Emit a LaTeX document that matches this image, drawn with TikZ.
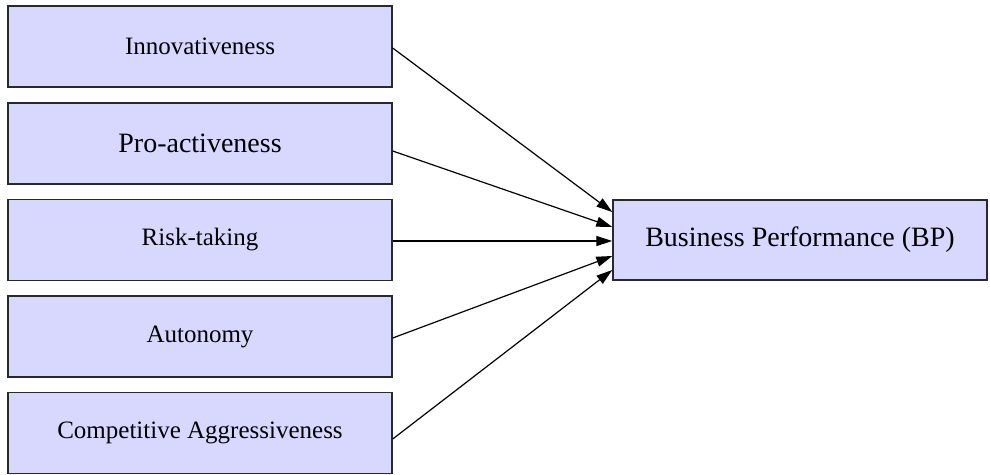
\documentclass[tikz,border=0pt]{standalone}
\usepackage{fontspec}
\setmainfont{Liberation Serif}
\usetikzlibrary{arrows.meta}
\definecolor{boxfill}{RGB}{216,216,255}
\definecolor{boxline}{RGB}{40,40,48}
\tikzset{
  factor/.style={draw=boxline, line width=1.4pt, fill=boxfill, minimum width=384pt,
    minimum height=81pt, inner sep=0pt, font=\fontsize{25}{28}\selectfont},
  bigtext/.style={font=\fontsize{28}{32}\selectfont},
  link/.style={line width=1.2pt, -{Triangle[length=16pt,width=10pt]}}
}
\begin{document}
\begin{tikzpicture}[x=1pt,y=-1pt]
  \useasboundingbox (0,0) rectangle (990,474);
  % dimensions of the construct
  \node[factor] (inn) at (200,46.5) {Innovativeness};
  \node[factor,bigtext] (pro) at (200,143.5) {Pro-activeness};
  \node[factor] (risk) at (200,240) {Risk-taking};
  \node[factor] (aut) at (200,336.5) {Autonomy};
  \node[factor] (comp) at (200,433) {Competitive Aggressiveness};
  % outcome
  \node[factor,bigtext,minimum width=374pt,minimum height=80pt] (bp) at (800,240) {Business Performance (BP)};
  % paths
  \draw[link] ([yshift=-1.5pt]inn.east) -- ([yshift=28pt]bp.west);
  \draw[link] ([yshift=-7.5pt]pro.east) -- ([yshift=13pt]bp.west);
  \draw[link] ([yshift=-1pt]risk.east) -- ([yshift=-1pt]bp.west);
  \draw[link] ([yshift=-1.5pt]aut.east) -- ([yshift=-16pt]bp.west);
  \draw[link] ([yshift=-6pt]comp.east) -- ([yshift=-30pt]bp.west);
\end{tikzpicture}
\end{document}
